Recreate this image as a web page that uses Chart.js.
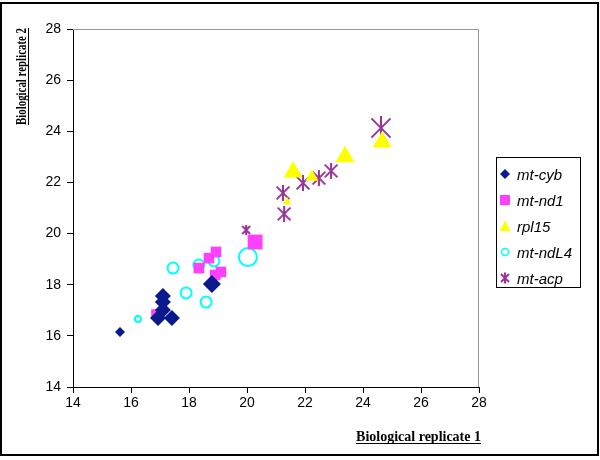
<!DOCTYPE html>
<html>
<head>
<meta charset="utf-8">
<script src="https://cdn.jsdelivr.net/npm/chart.js@4.4.0/dist/chart.umd.min.js"></script>
<style>
  body { margin: 0; background: #fff; }
  #wrap { position: relative; width: 600px; height: 460px; }
  #legend {
    position: absolute; left: 496px; top: 157px; width: 85px; height: 131px;
    border: 1px solid #000; box-sizing: border-box; padding-top: 3px;
    font: italic 15px "Liberation Sans", Arial, sans-serif; color: #000;
  }
  .item { height: 26px; display: flex; align-items: center; }
  .item svg { margin-left: 2px; margin-right: 6px; }
</style>
</head>
<body>
<div id="wrap">
  <canvas id="chart" width="600" height="460"></canvas>
  <div id="legend"></div>
</div>
<script>
// data (replicate 1 vs replicate 2)
const seriesNames = ['mt-cyb', 'mt-nd1', 'rpl15', 'mt-ndL4', 'mt-acp'];

const cybX = [15.62, 17.10, 17.10, 17.10, 16.93, 17.41, 18.79];
const cybY = [16.15, 17.56, 17.32, 17.01, 16.70, 16.70, 18.03];

const nd1X = [16.83, 18.34, 18.69, 18.93, 18.90, 19.10, 20.28];
const nd1Y = [16.89, 18.65, 19.04, 19.28, 18.38, 18.50, 19.67];

const rplX = [21.59, 21.38, 22.24, 23.38, 24.66];
const rplY = [22.41, 21.24, 22.21, 23.00, 23.58];

const ndl4X = [16.24, 17.45, 17.90, 18.59, 18.34, 18.86, 20.03];
const ndl4Y = [16.66, 18.65, 17.68, 17.32, 18.77, 18.93, 19.08];

const acpX = [19.97, 21.24, 21.28, 21.93, 22.48, 22.90, 24.62];
const acpY = [20.14, 21.59, 20.77, 21.98, 22.17, 22.45, 24.13];

const xTicks = [14, 16, 18, 20, 22, 24, 26, 28];
const yTicks = [14, 16, 18, 20, 22, 24, 26, 28];

// marker sizes (style only)
const cybR = [5, 8, 8, 8, 8, 8, 9];
const nd1R = [5.5, 7.5, 7.5, 7.5, 7.5, 7.5, 10.5];
const rplR = [11, 5, 7.5, 11, 11];
const ndl4R = [3, 5.5, 5.5, 5.5, 5.5, 5.5, 9];
const acpS = [10, 16, 16, 16, 16, 16, 24];

const colors = ['#0a1a8c', '#ff40ff', '#ffff00', '#00ffff', '#993399'];

function pts(xs, ys) {
  return xs.map((x, i) => ({ x: x, y: ys[i] }));
}

function asterisk(size, color) {
  const c = document.createElement('canvas');
  c.width = size + 2; c.height = size + 2;
  const g = c.getContext('2d');
  g.strokeStyle = color; g.lineWidth = 2;
  const m = (size + 2) / 2, h = size / 2;
  g.beginPath();
  g.moveTo(m - h * 0.8, m - h * 0.8); g.lineTo(m + h * 0.8, m + h * 0.8);
  g.moveTo(m + h * 0.8, m - h * 0.8); g.lineTo(m - h * 0.8, m + h * 0.8);
  g.moveTo(m, m - h); g.lineTo(m, m + h);
  g.stroke();
  return c;
}

const font = '"Liberation Sans", Arial, sans-serif';
const serif = '"Liberation Serif", "Times New Roman", serif';

const decor = {
  id: 'decor',
  beforeDatasetsDraw(chart) {
    const { ctx, chartArea: a } = chart;
    ctx.save();
    ctx.strokeStyle = '#999';
    ctx.lineWidth = 1;
    ctx.beginPath();
    ctx.moveTo(a.left, a.top + 0.5);
    ctx.lineTo(a.right - 0.5, a.top + 0.5);
    ctx.lineTo(a.right - 0.5, a.bottom);
    ctx.stroke();
    ctx.restore();
  },
  afterDraw(chart) {
    const ctx = chart.ctx;
    ctx.save();
    // outer frame
    ctx.strokeStyle = '#000';
    ctx.lineWidth = 2;
    ctx.strokeRect(1, 3, 597, 452);
    // axis titles
    ctx.fillStyle = '#000';
    ctx.font = 'bold 14px ' + serif;
    ctx.textBaseline = 'alphabetic';
    ctx.textAlign = 'right';
    const t1 = 'Biological replicate 1';
    const w1 = Math.min(ctx.measureText(t1).width, 143);
    ctx.fillText(t1, 481, 441, 143);
    ctx.lineWidth = 1;
    ctx.beginPath();
    ctx.moveTo(481 - w1, 443.5); ctx.lineTo(481, 443.5);
    ctx.stroke();

    ctx.translate(26, 125);
    ctx.rotate(-Math.PI / 2);
    ctx.textAlign = 'left';
    const t2 = 'Biological replicate 2';
    const w2 = Math.min(ctx.measureText(t2).width, 97);
    ctx.fillText(t2, 0, 0, 97);
    ctx.beginPath();
    ctx.moveTo(0, 2.5); ctx.lineTo(w2, 2.5);
    ctx.stroke();
    ctx.restore();
  }
};

const axis = (ticks) => ({
  type: 'linear',
  min: 14, max: 28,
  afterBuildTicks(s) { s.ticks = ticks.map(v => ({ value: v })); },
  ticks: { color: '#000', font: { size: 14, family: font } },
  grid: { drawOnChartArea: false, tickLength: 6, tickColor: '#000', tickWidth: 1 },
  border: { color: '#000', width: 1 }
});

const xAxis = axis(xTicks);
xAxis.ticks.padding = 2;
xAxis.afterFit = s => { s.height = 73; };
const yAxis = axis(yTicks);
yAxis.ticks.padding = 6;
yAxis.afterFit = s => { s.width = 73; };

new Chart(document.getElementById('chart'), {
  type: 'scatter',
  data: {
    datasets: [
      { label: seriesNames[0], data: pts(cybX, cybY), pointStyle: 'rectRot', pointRadius: cybR,
        backgroundColor: colors[0], borderColor: colors[0], borderWidth: 0 },
      { label: seriesNames[1], data: pts(nd1X, nd1Y), pointStyle: 'rect', pointRadius: nd1R,
        backgroundColor: colors[1], borderColor: colors[1], borderWidth: 0 },
      { label: seriesNames[2], data: pts(rplX, rplY), pointStyle: 'triangle', pointRadius: rplR,
        backgroundColor: colors[2], borderColor: colors[2], borderWidth: 0 },
      { label: seriesNames[3], data: pts(ndl4X, ndl4Y), pointStyle: 'circle', pointRadius: ndl4R,
        backgroundColor: 'rgba(0,0,0,0)', borderColor: colors[3], borderWidth: 2 },
      { label: seriesNames[4], data: pts(acpX, acpY), pointStyle: acpS.map(s => asterisk(s, colors[4])),
        pointRadius: acpS.map(s => s / 2), backgroundColor: colors[4], borderColor: colors[4] }
    ]
  },
  options: {
    responsive: false,
    animation: false,
    layout: { padding: { left: 0, top: 29, right: 121, bottom: 0 } },
    scales: { x: xAxis, y: yAxis },
    plugins: { legend: { display: false }, tooltip: { enabled: false } }
  },
  plugins: [decor]
});

// legend
const icons = [
  '<polygon points="6,1 11,6 6,11 1,6" fill="' + colors[0] + '"/>',
  '<rect x="1" y="1" width="10" height="10" fill="' + colors[1] + '"/>',
  '<polygon points="6,0.5 11.5,11 0.5,11" fill="' + colors[2] + '"/>',
  '<circle cx="6" cy="6" r="3.5" fill="none" stroke="' + colors[3] + '" stroke-width="1.5"/>',
  '<path d="M2,2 L10,10 M10,2 L2,10 M6,0.5 L6,11.5" stroke="' + colors[4] + '" stroke-width="2"/>'
];
document.getElementById('legend').innerHTML = seriesNames.map((n, i) =>
  '<div class="item"><svg width="12" height="12" viewBox="0 0 12 12">' + icons[i] + '</svg>' + n + '</div>'
).join('');
</script>
</body>
</html>
